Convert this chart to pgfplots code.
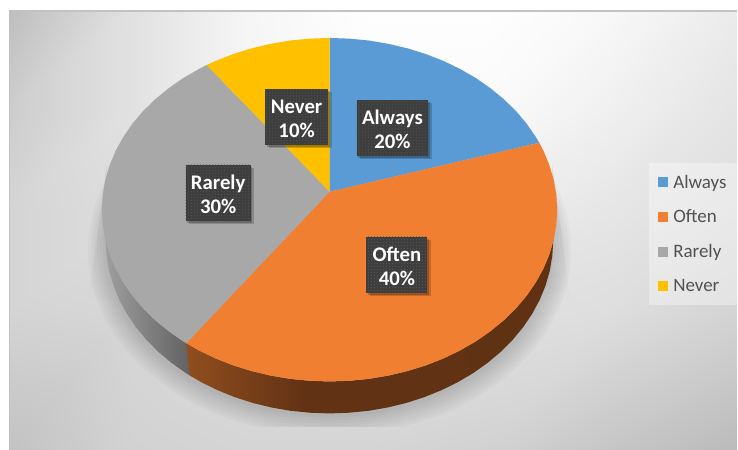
\documentclass[border=0pt]{standalone}
\usepackage{fontspec}
\setmainfont{Carlito}
\usepackage{pgfplots}
\pgfplotsset{compat=1.18}
\usetikzlibrary{patterns,shadows,fadings}

\definecolor{cAlways}{HTML}{5B9BD5}
\definecolor{cOften}{HTML}{F17F32}
\definecolor{cRarely}{HTML}{A8A8A8}
\definecolor{cNever}{HTML}{FFC000}
\definecolor{cBox}{HTML}{3E3E3E}
\definecolor{cDot}{HTML}{585858}
\pgfdeclarehorizontalshading{brownside}{100bp}{color(0bp)=(brown!0!black);
  color(25bp)=(rgb,255:red,145;green,78;blue,30);
  color(41bp)=(rgb,255:red,98;green,50;blue,20);
  color(100bp)=(rgb,255:red,94;green,49;blue,19)}

\newcommand\st{\rule{0pt}{18pt}}
\tikzset{lbl/.style={text=white,font=\fontsize{20.8}{24}\selectfont\bfseries,align=center,inner sep=0pt,
  general shadow={fill=black,opacity=.18,shadow xshift=3.5pt,shadow yshift=-3.5pt},
  general shadow={fill=black,opacity=.22,shadow xshift=1.5pt,shadow yshift=-2pt},
  preaction={fill=cBox},pattern=dots,pattern color=cDot}}

\begin{document}
\begin{tikzpicture}
\begin{axis}[
    x=1pt,y=1pt,
    xmin=0,xmax=738,ymin=0,ymax=450,
    y dir=reverse,
    hide axis,
    colormap/blackwhite,
    point meta min=0,point meta max=255,
    legend style={at={(axis cs:649.5,163.5)},anchor=north west,draw=none,
      fill=white,fill opacity=.35,text opacity=1,text=black!68,
      font=\fontsize{19}{20}\selectfont,row sep=16.3pt,inner xsep=9.5pt,inner ysep=9.5pt,
      cells={anchor=west}},
    legend cell align=left,
    legend image code/.code={\fill[#1,fill opacity=1] (0pt,-5pt) rectangle (10pt,5pt);
      \path (0pt,0pt) -- (13pt,0pt);},
]
% page
\addplot[fill=white,draw=none,forget plot] coordinates {(0,0)(738,0)(738,450)(0,450)} --cycle;

% chart background, gray levels
\addplot[surf,shader=interp,mesh/cols=7,point meta=explicit,forget plot] table[meta=g] {
x y g
9 11 190
130 11 225
250 11 246
370 11 254
490 11 254
610 11 248
738 11 235
9 110 205
130 110 225
250 110 245
370 110 250
490 110 250
610 110 240
738 110 228
9 210 212
130 210 222
250 210 230
370 210 235
490 210 238
610 210 230
738 210 222
9 310 212
130 310 215
250 310 220
370 310 220
490 310 225
610 310 222
738 310 212
9 450 195
130 450 210
250 450 213
370 450 213
490 450 210
610 450 198
738 450 187
};
\addplot[draw=black!24,line width=1.6pt,forget plot] coordinates {(9.5,450)(9.5,11)(738,11)};

% soft shadow under the pie, cut off flat at the bottom
\begin{scope}
\clip (axis cs:60,100) rectangle (axis cs:620,427);
\fill[black,opacity=.025] (axis cs:330,250) ellipse [x radius=242,y radius=186];
\fill[black,opacity=.025] (axis cs:330,250) ellipse [x radius=239,y radius=183];
\fill[black,opacity=.025] (axis cs:330,250) ellipse [x radius=236,y radius=180];
\fill[black,opacity=.025] (axis cs:330,250) ellipse [x radius=233,y radius=177];
\fill[black,opacity=.025] (axis cs:330,250) ellipse [x radius=230,y radius=174];
\fill[black,opacity=.025] (axis cs:330,250) ellipse [x radius=227,y radius=171];
\fill[black,opacity=.025] (axis cs:330,250) ellipse [x radius=224,y radius=168];
\end{scope}
% faint wedges beside the pie
\addplot[fill=black,fill opacity=.07,path fading=south,draw=none,forget plot] coordinates {(88,305)(107,165)(112,305)} --cycle;
\addplot[fill=black,fill opacity=.07,path fading=south,draw=none,forget plot] coordinates {(572,305)(553,165)(548,305)} --cycle;

% side wall, Rarely
\addplot[shade,left color=black!38,right color=black!62,draw=none,forget plot] coordinates {
(189.5,343.7)(183.4,341.8)(168.8,331.6)(155.4,320.6)(143.2,308.7)(132.5,296)(123.4,282.7)(115.7,268.8)
(109.8,254.5)(105.5,239.9)(106,241)(106.9,256.1)(109.4,271)(113.6,285.8)(119.5,300.2)(127,314.1)(136,327.5)
(146.5,340.2)(158.4,352.2)(171.6,363.3)(186,373.5)(190,376)(192,377)
} --cycle;
% side wall, Often
\addplot[shading=brownside,draw=none,forget plot] coordinates {
(554.5,239.9)(550.2,254.5)(544.3,268.8)(536.6,282.7)(527.5,296)(516.8,308.7)(504.6,320.6)(491.2,331.6)
(476.6,341.8)(460.8,350.9)(444,359)(426.4,365.9)(408,371.6)(389,376.1)(369.6,379.4)(349.9,381.3)(330,382)
(310.1,381.3)(290.4,379.4)(271,376.1)(252,371.6)(233.6,365.9)(216,359)(199.2,350.9)(186.5,343.7)
(190,376)(201.5,382.7)(218,390.8)(235.3,397.8)(253.4,403.6)(272,408.1)(291.1,411.4)(310.5,413.3)(330,414)
(349.5,413.3)(368.9,411.4)(388,408.1)(406.6,403.6)(424.7,397.8)(442,390.8)(458.5,382.7)(474,373.5)
(488.4,363.3)(501.6,352.2)(513.5,340.2)(524,327.5)(533,314.1)(540.5,300.2)(546.4,285.8)(550.6,271)(553.1,256.1)(554,241)
} --cycle;

% top face
\addplot[fill=cAlways,draw=none] coordinates {
(330,192)(330,38)(349.9,38.7)(369.6,40.6)(389,43.9)(408,48.4)(426.4,54.1)(444,61)(460.8,69.1)(476.6,78.2)
(491.2,88.4)(504.6,99.4)(516.8,111.3)(527.5,124)(536.6,137.3)(540,143)
} --cycle;
\addlegendentry{Always}
\addplot[fill=cOften,draw=none] coordinates {
(330,192)(540,143)(544.3,151.2)(550.2,165.5)(554.5,180.1)(557.1,195)(558,210)(557.1,225)(554.5,239.9)
(550.2,254.5)(544.3,268.8)(536.6,282.7)(527.5,296)(516.8,308.7)(504.6,320.6)(491.2,331.6)(476.6,341.8)
(460.8,350.9)(444,359)(426.4,365.9)(408,371.6)(389,376.1)(369.6,379.4)(349.9,381.3)(330,382)(310.1,381.3)
(290.4,379.4)(271,376.1)(252,371.6)(233.6,365.9)(216,359)(199.2,350.9)(186.5,343.7)
} --cycle;
\addlegendentry{Often}
\addplot[fill=cRarely,draw=none] coordinates {
(330,192)(186.5,343.7)(183.4,341.8)(168.8,331.6)(155.4,320.6)(143.2,308.7)(132.5,296)(123.4,282.7)(115.7,268.8)
(109.8,254.5)(105.5,239.9)(102.9,225)(102,210)(102.9,195)(105.5,180.1)(109.8,165.5)(115.7,151.2)(123.4,137.3)
(132.5,124)(143.2,111.3)(155.4,99.4)(168.8,88.4)(183.4,78.2)(199.2,69.1)(207,65)
} --cycle;
\addlegendentry{Rarely}
\addplot[fill=cNever,draw=none] coordinates {
(330,192)(207,65)(216,61)(233.6,54.1)(252,48.4)(271,43.9)(290.4,40.6)(310.1,38.7)(330,38)
} --cycle;
\addlegendentry{Never}

% data labels
\node[lbl,minimum width=72pt,minimum height=56pt] at (axis cs:393,128) {\st Always\\20\%};
\node[lbl,minimum width=61pt,minimum height=56pt] at (axis cs:397.5,265) {\st Often\\40\%};
\node[lbl,minimum width=65pt,minimum height=56pt] at (axis cs:218.5,193) {\st Rarely\\30\%};
\node[lbl,minimum width=63pt,minimum height=56pt] at (axis cs:297,117) {\st Never\\10\%};
\end{axis}
\end{tikzpicture}
\end{document}
